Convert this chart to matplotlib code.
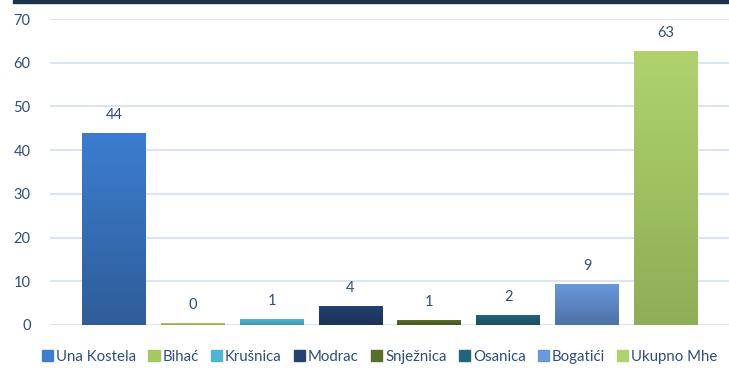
import matplotlib.pyplot as plt
from matplotlib.patches import Rectangle
from matplotlib.colors import LinearSegmentedColormap, to_rgb
import numpy as np

# data
categories = ["Una Kostela", "Bihać", "Krušnica", "Modrac", "Snježnica",
              "Osanica", "Bogatići", "Ukupno Mhe"]
values = [43.9, 0.4, 1.3, 4.3, 1.1, 2.2, 9.4, 62.6]
top_colors = ["#3c7dd0", "#a6c862", "#4fb5d2", "#24416f", "#56702b",
              "#22667a", "#6a98dc", "#b0d26e"]
bottom_colors = ["#2f5d98", "#8fac52", "#3f95ad", "#1b3157", "#435820",
                 "#1a4f5f", "#4e72a8", "#8fad56"]
yticks = [0, 10, 20, 30, 40, 50, 60, 70]

text_color = "#2e4d7b"
plt.rcParams['font.family'] = ['Lato', 'DejaVu Sans']

fig = plt.figure(figsize=(7.29, 3.69), dpi=100)
ax = fig.add_axes([50 / 729, 1 - 325 / 369, 1 - 50 / 729, (325 - 19) / 369])

x = np.arange(len(categories))
width = 0.81
bars = ax.bar(x, values, width=width, color=top_colors, zorder=2)

# gradient fill on each bar
grad = np.linspace(0, 1, 100).reshape(-1, 1)
for b, c1, c2 in zip(bars, top_colors, bottom_colors):
    cmap = LinearSegmentedColormap.from_list("g", [to_rgb(c2), to_rgb(c1)])
    x0, y0 = b.get_x(), b.get_y()
    im = ax.imshow(grad, extent=[x0, x0 + b.get_width(), y0, y0 + b.get_height()],
                   origin="lower", aspect="auto", cmap=cmap, zorder=3)
    im.set_clip_path(b)

for xi, v in zip(x, values):
    ax.text(xi, v + 2.5, f"{v:.0f}", ha="center", va="bottom",
            fontsize=10.5, color=text_color, zorder=4)

ax.set_xlim(-0.81, 7.8)
ax.set_ylim(0, 70)
ax.set_yticks(yticks)
ax.set_xticks([])
ax.tick_params(axis="y", length=0, pad=14, labelsize=10.5, labelcolor=text_color)
ax.grid(axis="y", color="#dae5f1", linewidth=1.5, zorder=0)
ax.set_axisbelow(True)
for s in ax.spines.values():
    s.set_visible(False)

# legend
handles = [Rectangle((0, 0), 1, 1, color=c) for c in top_colors]
fig.legend(handles, categories, loc="center", bbox_to_anchor=(0.521, 1 - 357 / 369),
           ncol=len(categories), frameon=False, fontsize=10.8, handlelength=0.75,
           handleheight=0.75, handletextpad=0.2, columnspacing=0.8,
           labelcolor=text_color)

# dark line at the top
fig.add_artist(Rectangle((13 / 729, 1 - 3 / 369), 1, 3 / 369, color="#1c3349",
                         transform=fig.transFigure))

plt.savefig("out.png", dpi=100)
